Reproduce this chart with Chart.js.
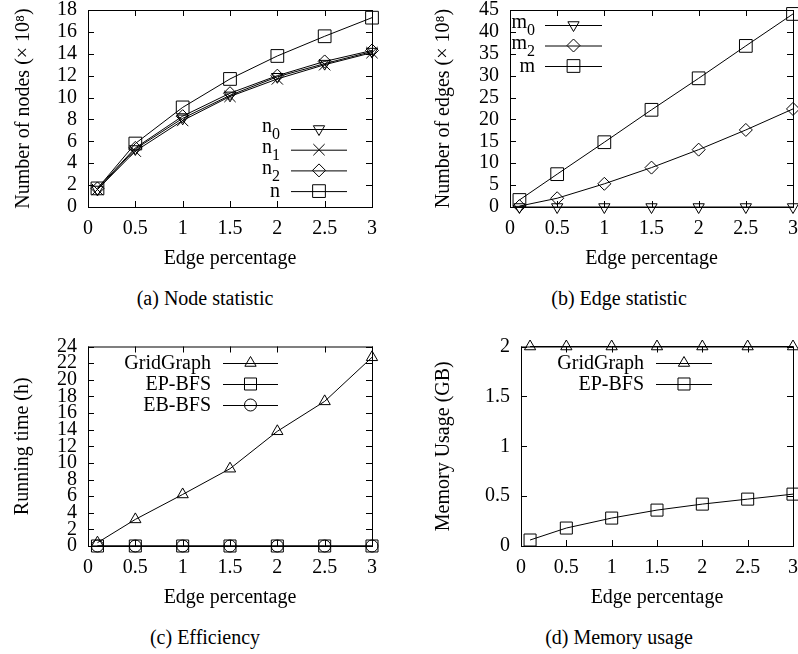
<!DOCTYPE html>
<html>
<head>
<meta charset="utf-8">
<script src="https://cdn.jsdelivr.net/npm/chart.js@4.4.1/dist/chart.umd.min.js"></script>
<style>
html, body { margin:0; padding:0; background:#fff; overflow:hidden; width:798px; height:654px; position:relative; }
.box { position:absolute; }
.cap { position:absolute; font-family:"Liberation Serif", serif; font-size:20px; line-height:24px; color:#000; transform:translateX(-50%); white-space:nowrap; }
</style>
</head>
<body>
<div class="box" style="left:0;top:0"><canvas id="chartA" width="400" height="275"></canvas></div>
<div class="box" style="left:400px;top:0"><canvas id="chartB" width="420" height="275"></canvas></div>
<div class="box" style="left:0;top:337px"><canvas id="chartC" width="400" height="277"></canvas></div>
<div class="box" style="left:400px;top:337px"><canvas id="chartD" width="420" height="277"></canvas></div>
<div class="cap" style="left:205px;top:286px">(a) Node statistic</div>
<div class="cap" style="left:619px;top:286px">(b) Edge statistic</div>
<div class="cap" style="left:205px;top:625px">(c) Efficiency</div>
<div class="cap" style="left:619px;top:625px">(d) Memory usage</div>
<script>
// x values (edge percentage)
const edgePct = [0.1, 0.5, 1, 1.5, 2, 2.5, 3];
const xTitle = 'Edge percentage';

// (a) node statistic, x 10^8
const nodeLabels = ['n\u2080', 'n\u2081', 'n\u2082', 'n'];
const nodeN0 = [1.6, 5.3, 8.1, 10.2, 11.9, 13.1, 14.2];
const nodeN1 = [1.6, 5.1, 7.9, 10.1, 11.7, 13.0, 14.1];
const nodeN2 = [1.7, 5.4, 8.3, 10.4, 12.0, 13.3, 14.3];
const nodeN = [1.7, 5.8, 9.1, 11.7, 13.8, 15.6, 17.3];

// (b) edge statistic, x 10^8
const edgeLabels = ['m\u2080', 'm\u2082', 'm'];
const edgeM0 = [0, 0, 0, 0, 0, 0, 0];
const edgeM2 = [0.2, 2.0, 5.3, 9.0, 13.1, 17.6, 22.4];
const edgeM = [1.6, 7.5, 14.8, 22.2, 29.4, 36.8, 44.1];

// (c) running time (h)
const timeLabels = ['GridGraph', 'EP-BFS', 'EB-BFS'];
const timeGridGraph = [0.4, 3.2, 6.2, 9.3, 13.8, 17.4, 22.7];
const timeEPBFS = [0, 0, 0, 0, 0, 0, 0];
const timeEBBFS = [0, 0, 0, 0, 0, 0, 0];

// (d) memory usage (GB)
const memLabels = ['GridGraph', 'EP-BFS'];
const memGridGraph = [2, 2, 2, 2, 2, 2, 2];
const memEPBFS = [0.06, 0.18, 0.28, 0.36, 0.42, 0.47, 0.52];

const FONT = "'Liberation Serif', 'Times New Roman', serif";
const f20 = {family: FONT, size: 20, lineHeight: 1.2};

function pts(ys) {
    return edgePct.map(function(x, i) { return {x: x, y: ys[i]}; });
}

// gnuplot prints 1 not 1.0
function plainNum(v) {
    return String(Math.round(v * 100) / 100);
}

function series(label, ys, style, radius, rot) {
    return {
        label: label,
        data: pts(ys),
        borderColor: '#000',
        borderWidth: 1,
        pointStyle: style,
        pointRadius: radius,
        pointHoverRadius: radius,
        pointRotation: rot || 0,
        pointBorderColor: '#000',
        pointBackgroundColor: 'rgba(0,0,0,0)',
        pointBorderWidth: 1,
        tension: 0,
        clip: false
    };
}

// box + inward mirrored ticks like gnuplot
const gnuFrame = {
    id: 'gnuFrame',
    beforeDatasetsDraw: function(chart) {
        const ctx = chart.ctx;
        const a = chart.chartArea;
        const xs = chart.scales.x, ys = chart.scales.y;
        const tl = 6;
        ctx.save();
        ctx.strokeStyle = '#000';
        ctx.lineWidth = 1;
        ctx.strokeRect(a.left + 0.5, a.top + 0.5, a.right - a.left, a.bottom - a.top);
        ctx.beginPath();
        xs.ticks.forEach(function(t) {
            const px = Math.round(xs.getPixelForValue(t.value)) + 0.5;
            ctx.moveTo(px, a.bottom); ctx.lineTo(px, a.bottom - tl);
            ctx.moveTo(px, a.top); ctx.lineTo(px, a.top + tl);
        });
        ys.ticks.forEach(function(t) {
            const py = Math.round(ys.getPixelForValue(t.value)) + 0.5;
            ctx.moveTo(a.left, py); ctx.lineTo(a.left + tl, py);
            ctx.moveTo(a.right, py); ctx.lineTo(a.right - tl, py);
        });
        ctx.stroke();
        ctx.restore();
    }
};

// split 'n₀' into base text and a lowered smaller subscript
function splitLabel(s) {
    let base = '', sub = '';
    for (const ch of s) {
        const c = ch.charCodeAt(0);
        if (c >= 0x2080 && c <= 0x2089) sub += String(c - 0x2080);
        else base += ch;
    }
    return {base: base, sub: sub};
}

// gnuplot style key: text right aligned, then line sample with marker
const gnuLegend = {
    id: 'gnuLegend',
    afterDraw: function(chart, args, opts) {
        if (!opts || opts.right === undefined) return;
        const ctx = chart.ctx;
        ctx.save();
        ctx.fillStyle = '#000';
        ctx.strokeStyle = '#000';
        ctx.lineWidth = 1;
        ctx.textBaseline = 'middle';
        chart.data.datasets.forEach(function(ds, i) {
            const y = opts.y0 + i * opts.dy;
            const parts = splitLabel(ds.label);
            ctx.font = '16px ' + FONT;
            const subW = parts.sub ? ctx.measureText(parts.sub).width : 0;
            ctx.textAlign = 'right';
            if (parts.sub) {
                ctx.fillText(parts.sub, opts.right, y + 6);
            }
            ctx.font = '20px ' + FONT;
            ctx.fillText(parts.base, opts.right - subW, y + (parts.sub ? -2 : 1));
            ctx.beginPath();
            ctx.moveTo(opts.x1, y + 0.5);
            ctx.lineTo(opts.x2, y + 0.5);
            ctx.stroke();
            ctx.fillStyle = 'rgba(0,0,0,0)';
            Chart.helpers.drawPoint(ctx, {
                pointStyle: ds.pointStyle,
                radius: ds.pointRadius,
                rotation: ds.pointRotation,
                borderWidth: 1
            }, (opts.x1 + opts.x2) / 2, y);
            ctx.fillStyle = '#000';
        });
        ctx.restore();
    }
};

function makeChart(id, datasets, o) {
    return new Chart(document.getElementById(id).getContext('2d'), {
        type: 'line',
        data: {datasets: datasets},
        options: {
            responsive: false,
            animation: false,
            layout: {padding: {left: 0, top: o.top, right: o.right, bottom: 0}},
            plugins: {
                legend: {display: false},
                tooltip: {enabled: false},
                gnuLegend: o.legend
            },
            scales: {
                x: {
                    type: 'linear', min: 0, max: 3,
                    grid: {display: false, drawTicks: false},
                    border: {display: false},
                    ticks: {stepSize: 0.5, padding: 10, font: f20, color: '#000', maxRotation: 0, autoSkip: false, callback: plainNum},
                    title: {display: true, text: xTitle, font: f20, color: '#000', padding: {top: 0, bottom: 4}},
                    afterFit: function(s) { s.height = 68; s.paddingLeft = 0; s.paddingRight = 0; }
                },
                y: {
                    type: 'linear', min: 0, max: o.ymax,
                    grid: {display: false, drawTicks: false},
                    border: {display: false},
                    ticks: {stepSize: o.ystep, padding: 11, font: f20, color: '#000', autoSkip: false, maxTicksLimit: 40, callback: plainNum},
                    title: {display: true, text: o.ytitle, font: f20, color: '#000', padding: {top: o.ytpad, bottom: 0}},
                    afterFit: function(s) { s.width = o.ywidth; s.paddingTop = 0; s.paddingBottom = 0; }
                }
            }
        },
        plugins: [gnuFrame, gnuLegend]
    });
}

makeChart('chartA', [
    series(nodeLabels[0], nodeN0, 'triangle', 6.5, 180),
    series(nodeLabels[1], nodeN1, 'crossRot', 8),
    series(nodeLabels[2], nodeN2, 'rectRot', 6.5),
    series(nodeLabels[3], nodeN, 'rect', 9)
], {top: 9, right: 28, ymax: 18, ystep: 2, ywidth: 88, ytpad: 12,
    ytitle: 'Number of nodes (\u00d7 10\u2078)',
    legend: {right: 280, x1: 291, x2: 347, y0: 129, dy: 20.7}});

makeChart('chartB', [
    series(edgeLabels[0], edgeM0, 'triangle', 6.5, 180),
    series(edgeLabels[1], edgeM2, 'rectRot', 6.5),
    series(edgeLabels[2], edgeM, 'rect', 9)
], {top: 8, right: 27, ymax: 45, ystep: 5, ywidth: 110, ytpad: 32,
    ytitle: 'Number of edges (\u00d7 10\u2078)',
    legend: {right: 135, x1: 145, x2: 202, y0: 25, dy: 20.5}});

makeChart('chartC', [
    series(timeLabels[0], timeGridGraph, 'triangle', 6.5),
    series(timeLabels[1], timeEPBFS, 'rect', 8.5),
    series(timeLabels[2], timeEBBFS, 'circle', 6)
], {top: 9, right: 28, ymax: 24, ystep: 2, ywidth: 88, ytpad: 11,
    ytitle: 'Running time (h)',
    legend: {right: 211, x1: 223, x2: 278, y0: 26, dy: 21}});

makeChart('chartD', [
    series(memLabels[0], memGridGraph, 'triangle', 6.5),
    series(memLabels[1], memEPBFS, 'rect', 8.5)
], {top: 8, right: 27, ymax: 2, ystep: 0.5, ywidth: 121, ytpad: 32,
    ytitle: 'Memory Usage (GB)',
    legend: {right: 244, x1: 256, x2: 312, y0: 26, dy: 21}});
</script>
</body>
</html>
